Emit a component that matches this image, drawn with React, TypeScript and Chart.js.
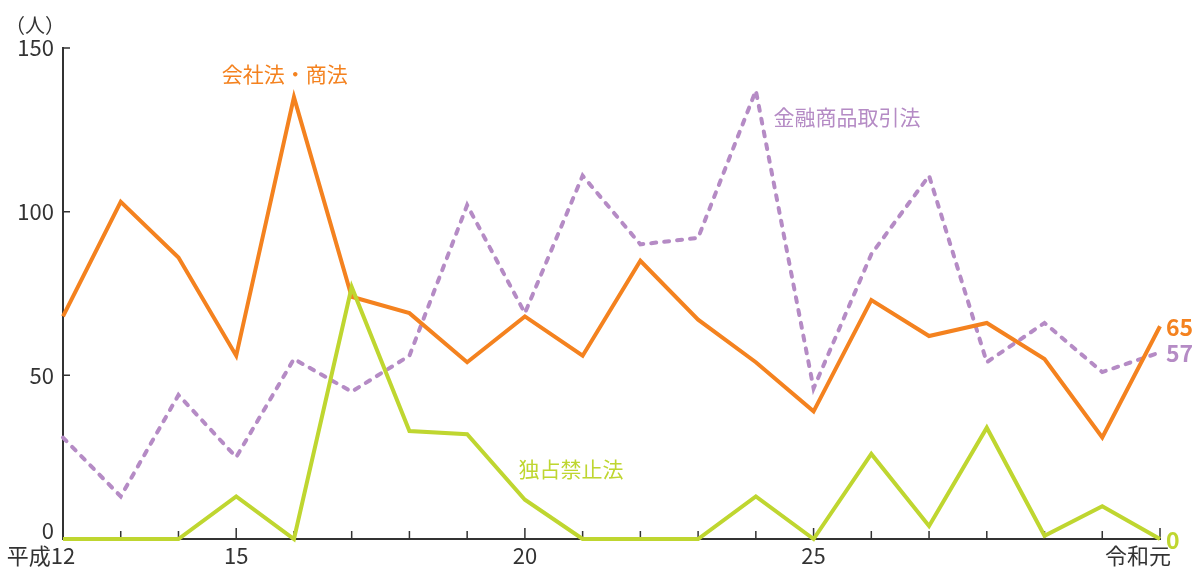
import React, { useEffect, useRef } from "react";
import { Chart, registerables } from "chart.js";

Chart.register(...registerables);

// ---- data ----
const categories = ["平成12", "13", "14", "15", "16", "17", "18", "19", "20", "21", "22", "23", "24", "25", "26", "27", "28", "29", "30", "令和元"];
const axisLabels = ["平成12", "", "", "15", "", "", "", "", "20", "", "", "", "", "25", "", "", "", "", "", "令和元"];
const kaishaShoho = [68, 103, 86, 56, 135, 74, 69, 54, 68, 56, 85, 67, 54, 39, 73, 62, 66, 55, 31, 65];
const kinyuShohinTorihikiho = [31, 13, 44, 25, 55, 45, 56, 102, 69, 111, 90, 92, 137, 46, 87, 111, 54, 66, 51, 57];
const dokusenKinshiho = [0, 0, 0, 13, 0, 77, 33, 32, 12, 0, 0, 0, 13, 0, 26, 4, 34, 1, 10, 0];
const yTicks = [0, 50, 100, 150];
const unitLabel = "（人）";

const ORANGE = "#F4821F";
const PURPLE = "#B58BC5";
const GREEN = "#BFD630";
const AXIS = "#333333";
const FONT = '"Noto Sans CJK JP", "Noto Sans", sans-serif';

const seriesNames = ["会社法・商法", "金融商品取引法", "独占禁止法"];

export default function App() {
  const ref = useRef<HTMLCanvasElement | null>(null);

  useEffect(() => {
    if (!ref.current) return;

    const labelAnchors = [
      { text: seriesNames[0], color: ORANGE, xv: 3.84, yv: 142 },
      { text: seriesNames[1], color: PURPLE, xv: 13.58, yv: 129 },
      { text: seriesNames[2], color: GREEN, xv: 8.8, yv: 21.4 },
    ];

    const decor = {
      id: "decor",
      beforeDatasetsDraw(chart: any) {
        const { ctx, chartArea, scales } = chart;
        const x = scales.x;
        const y = scales.y;
        ctx.save();
        ctx.strokeStyle = AXIS;
        ctx.lineWidth = 1.5;
        ctx.beginPath();
        categories.forEach((_, i) => {
          const px = x.getPixelForValue(i);
          const len = axisLabels[i] ? 11 : 8;
          ctx.moveTo(px, chartArea.bottom);
          ctx.lineTo(px, chartArea.bottom - len);
        });
        yTicks.forEach((v) => {
          const py = y.getPixelForValue(v);
          ctx.moveTo(chartArea.left, py);
          ctx.lineTo(chartArea.left + 7, py);
        });
        ctx.stroke();
        ctx.restore();
      },
      afterDatasetsDraw(chart: any) {
        const { ctx, chartArea, scales } = chart;
        const x = scales.x;
        const y = scales.y;
        ctx.save();
        ctx.font = `22px ${FONT}`;
        ctx.fillStyle = AXIS;
        // y tick labels
        ctx.textAlign = "right";
        ctx.textBaseline = "middle";
        yTicks.forEach((v) => {
          const py = y.getPixelForValue(v) - (v === yTicks[0] ? 8 : 0);
          ctx.fillText(String(v), chartArea.left - 9, py);
        });
        // x tick labels
        ctx.textBaseline = "middle";
        axisLabels.forEach((lab, i) => {
          if (!lab) return;
          const px = x.getPixelForValue(i);
          if (/^\d+$/.test(lab)) {
            ctx.textAlign = "center";
            ctx.fillText(lab, px, chartArea.bottom + 17);
          } else {
            const m = lab.match(/(\d+|.)$/);
            const anchor = m ? m[0] : lab;
            const w = ctx.measureText(anchor).width;
            ctx.textAlign = "right";
            ctx.fillText(lab, px + w / 2, chartArea.bottom + 17);
          }
        });
        // unit
        ctx.font = `20px ${FONT}`;
        ctx.textAlign = "left";
        ctx.fillText(unitLabel, 5, 25);
        // series labels
        ctx.font = `21px ${FONT}`;
        ctx.textAlign = "center";
        labelAnchors.forEach((a) => {
          ctx.fillStyle = a.color;
          ctx.fillText(a.text, x.getPixelForValue(a.xv), y.getPixelForValue(a.yv));
        });
        // end values
        ctx.font = `bold 23px ${FONT}`;
        ctx.textAlign = "left";
        const last = categories.length - 1;
        const ends = [
          { v: kaishaShoho[last], c: ORANGE },
          { v: kinyuShohinTorihikiho[last], c: PURPLE },
          { v: dokusenKinshiho[last], c: GREEN },
        ];
        ends.forEach((e) => {
          ctx.fillStyle = e.c;
          ctx.fillText(String(e.v), x.getPixelForValue(last) + 6, y.getPixelForValue(e.v) + 1);
        });
        ctx.restore();
      },
    };

    const chart = new Chart(ref.current, {
      type: "line",
      data: {
        labels: categories,
        datasets: [
          {
            label: seriesNames[0],
            data: kaishaShoho,
            borderColor: ORANGE,
            borderWidth: 4,
            pointRadius: 0,
            tension: 0,
            clip: false as any,
            order: 1,
          },
          {
            label: seriesNames[1],
            data: kinyuShohinTorihikiho,
            borderColor: PURPLE,
            borderWidth: 4,
            borderDash: [5, 8],
            borderCapStyle: "round",
            pointRadius: 0,
            tension: 0,
            clip: false as any,
            order: 2,
          },
          {
            label: seriesNames[2],
            data: dokusenKinshiho,
            borderColor: GREEN,
            borderWidth: 4,
            pointRadius: 0,
            tension: 0,
            clip: false as any,
            order: 0,
          },
        ],
      },
      options: {
        animation: false,
        responsive: false,
        maintainAspectRatio: false,
        layout: { padding: { top: 48, right: 42, left: 0, bottom: 0 } },
        plugins: { legend: { display: false }, tooltip: { enabled: false } },
        scales: {
          x: {
            type: "category",
            offset: false,
            grid: { display: false, drawTicks: false },
            border: { display: true, color: AXIS, width: 2 },
            ticks: { display: false },
            afterFit: (s: any) => {
              s.height = 30;
            },
          },
          y: {
            min: 0,
            max: 150,
            grid: { display: false, drawTicks: false },
            border: { display: true, color: AXIS, width: 2 },
            ticks: { display: false, stepSize: 50 },
            afterFit: (s: any) => {
              s.width = 63;
            },
          },
        },
      },
      plugins: [decor],
    } as any);

    return () => chart.destroy();
  }, []);

  return (
    <div style={{ position: "fixed", left: 0, top: 0, width: 1202, height: 569, background: "#fff" }}>
      <canvas ref={ref} width={1202} height={569} style={{ width: 1202, height: 569, display: "block" }} />
    </div>
  );
}
